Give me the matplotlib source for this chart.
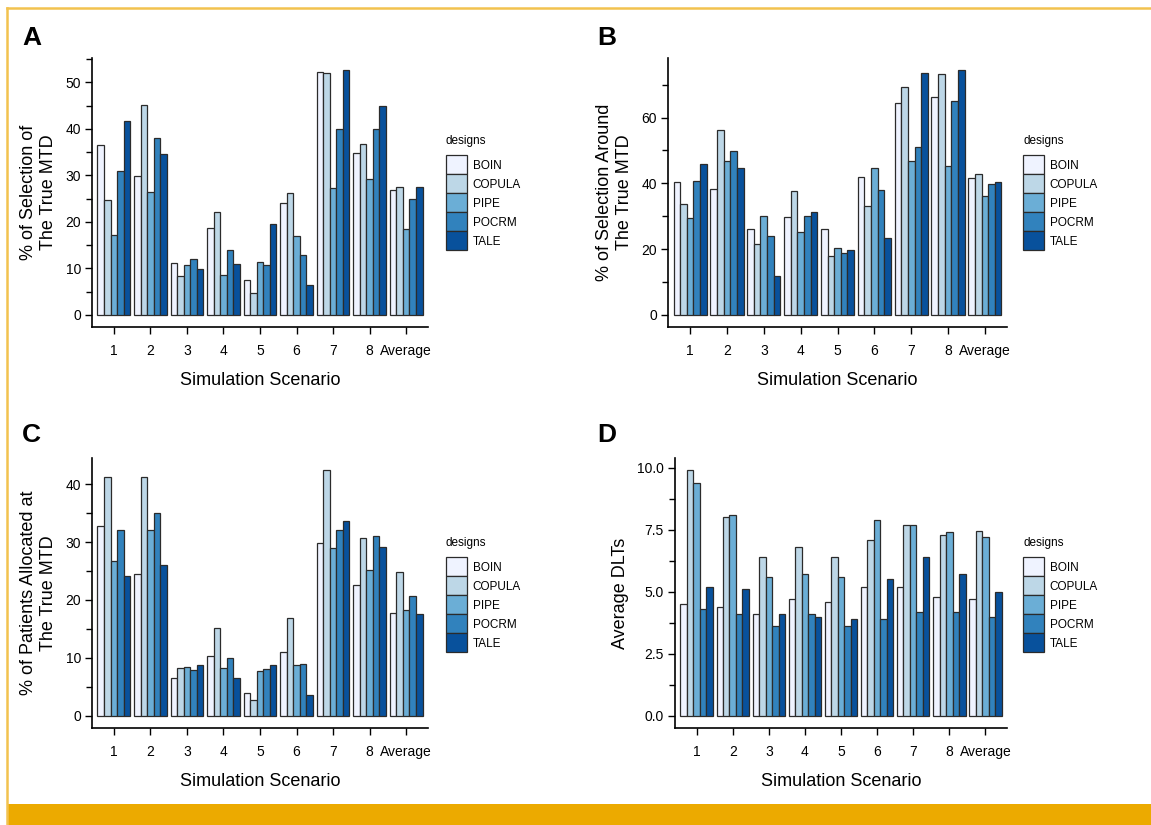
import matplotlib
matplotlib.use("Agg")
import matplotlib.pyplot as plt
import numpy as np
from matplotlib.ticker import MultipleLocator
from matplotlib.patches import Rectangle

plt.rcParams['font.family'] = ['Liberation Sans Narrow', 'Liberation Sans', 'DejaVu Sans']

scenarios = ["1", "2", "3", "4", "5", "6", "7", "8", "Average"]
designs = ["BOIN", "COPULA", "PIPE", "POCRM", "TALE"]
colors = ["#eff3ff", "#bdd7e7", "#6baed6", "#3182bd", "#08519c"]

# Panel A: % of Selection of the True MTD
sel_true = {
    "BOIN":   [36.5, 29.8, 11.1, 18.7, 7.4, 24.1, 52.2, 34.9, 26.8],
    "COPULA": [24.7, 45.2, 8.3, 22.2, 4.7, 26.3, 52.1, 36.7, 27.5],
    "PIPE":   [17.2, 26.4, 10.8, 8.6, 11.4, 16.9, 27.3, 29.3, 18.4],
    "POCRM":  [31.0, 38.0, 12.0, 14.0, 10.8, 12.9, 40.0, 40.0, 24.8],
    "TALE":   [41.6, 34.6, 9.8, 11.0, 19.6, 6.5, 52.6, 44.9, 27.5],
}
# Panel B: % of Selection Around the True MTD
sel_around = {
    "BOIN":   [40.5, 38.3, 26.1, 29.6, 26.2, 41.8, 64.3, 66.3, 41.7],
    "COPULA": [33.7, 56.2, 21.4, 37.7, 18.0, 33.2, 69.4, 73.4, 42.9],
    "PIPE":   [29.5, 46.8, 30.1, 25.2, 20.4, 44.7, 46.7, 45.2, 36.1],
    "POCRM":  [40.8, 49.9, 23.9, 29.9, 18.7, 37.9, 51.0, 65.0, 39.7],
    "TALE":   [45.8, 44.7, 11.9, 31.2, 19.7, 23.3, 73.7, 74.4, 40.5],
}
# Panel C: % of Patients Allocated at the True MTD
pat_alloc = {
    "BOIN":   [32.7, 24.4, 6.5, 10.3, 4.0, 11.0, 29.8, 22.6, 17.7],
    "COPULA": [41.2, 41.2, 8.3, 15.1, 2.7, 16.9, 42.4, 30.7, 24.8],
    "PIPE":   [26.8, 32.1, 8.4, 8.3, 7.7, 8.8, 28.9, 25.2, 18.3],
    "POCRM":  [32.0, 35.0, 7.9, 10.0, 8.0, 8.9, 32.0, 31.0, 20.6],
    "TALE":   [24.2, 26.1, 8.7, 6.5, 8.8, 3.5, 33.7, 29.2, 17.6],
}
# Panel D: Average DLTs
avg_dlt = {
    "BOIN":   [4.5, 4.4, 4.1, 4.7, 4.6, 5.2, 5.2, 4.8, 4.7],
    "COPULA": [9.9, 8.0, 6.4, 6.8, 6.4, 7.1, 7.7, 7.3, 7.45],
    "PIPE":   [9.4, 8.1, 5.6, 5.7, 5.6, 7.9, 7.7, 7.4, 7.2],
    "POCRM":  [4.3, 4.1, 3.6, 4.1, 3.6, 3.9, 4.2, 4.2, 4.0],
    "TALE":   [5.2, 5.1, 4.1, 4.0, 3.9, 5.5, 6.4, 5.7, 5.0],
}

W, H = 1151, 825
fig = plt.figure(figsize=(W / 100, H / 100), dpi=100)

# decorative frame
fig.add_artist(Rectangle((7 / W, 0), 1, 21 / H, transform=fig.transFigure, facecolor="#ecaa00", edgecolor="none", zorder=5))
fig.add_artist(plt.Line2D([7 / W, 1], [1 - 8 / H, 1 - 8 / H], transform=fig.transFigure, color="#f2c24f", lw=1.8, zorder=5))
fig.add_artist(plt.Line2D([7.5 / W, 7.5 / W], [0, 1 - 8 / H], transform=fig.transFigure, color="#f2c24f", lw=1.8, zorder=5))


def px_axes(l, r, t, b):
    return fig.add_axes([l / W, 1 - b / H, (r - l) / W, (b - t) / H])


panels = [
    ("A", sel_true, "% of Selection of\nThe True MTD", (92, 428, 58, 327), 10, 5, "{:.0f}", (22, 45), (446, 141)),
    ("B", sel_around, "% of Selection Around\nThe True MTD", (668, 1007, 58, 327), 20, 10, "{:.0f}", (597, 45), (1023, 141)),
    ("C", pat_alloc, "% of Patients Allocated at\nThe True MTD", (92, 428, 458, 728), 10, 5, "{:.0f}", (22, 442), (446, 543)),
    ("D", avg_dlt, "Average DLTs", (675, 1007, 458, 728), 2.5, 1.25, "{:.1f}", (597, 442), (1023, 543)),
]

x = np.arange(1, len(scenarios) + 1)
bw = 0.18
for letter, data, ylabel, box, major, minor, fmt, lpos, legpos in panels:
    ax = px_axes(*box)
    handles = []
    for i, d in enumerate(designs):
        h = ax.bar(x + (i - 2) * bw, data[d], width=bw, color=colors[i],
                   edgecolor="#2b2b2b", linewidth=0.9, label=d)
        handles.append(h)
    ymax = max(max(v) for v in data.values())
    ax.set_ylim(-0.05 * ymax, 1.05 * ymax)
    ax.set_xlim(0.4, len(scenarios) + 0.6)
    ax.set_xticks(x)
    ax.set_xticklabels(scenarios, fontsize=10)
    ax.yaxis.set_major_locator(MultipleLocator(major))
    ax.yaxis.set_minor_locator(MultipleLocator(minor))
    ax.yaxis.set_major_formatter(matplotlib.ticker.FuncFormatter(lambda v, p, f=fmt: f.format(v)))
    ax.tick_params(axis="y", labelsize=10, length=5, width=1, direction="out", pad=3)
    ax.tick_params(axis="y", which="minor", length=4, width=1)
    ax.tick_params(axis="x", length=5, width=1, pad=7)
    for s in ["top", "right"]:
        ax.spines[s].set_visible(False)
    for s in ["left", "bottom"]:
        ax.spines[s].set_linewidth(1.2)
    ax.set_xlabel("Simulation Scenario", fontsize=13, labelpad=10)
    ax.set_ylabel(ylabel, fontsize=13, labelpad=6, linespacing=1.25)
    fig.text(lpos[0] / W, 1 - lpos[1] / H, letter, fontsize=19, fontweight="bold",
             family=["Liberation Sans", "DejaVu Sans"], ha="left", va="baseline")
    leg = ax.legend(handles=handles, labels=designs, title="designs",
                    loc="upper left", bbox_to_anchor=(legpos[0] / W, 1 - (legpos[1] - 6) / H),
                    bbox_transform=fig.transFigure, frameon=False, fontsize=8.5,
                    title_fontsize=8.5, handlelength=1.75, handleheight=2.1,
                    handletextpad=0.5, labelspacing=0.0, borderpad=0, borderaxespad=0)
    leg._legend_box.align = "left"
    leg._legend_box.sep = 6

fig.savefig("out.png", dpi=100)
